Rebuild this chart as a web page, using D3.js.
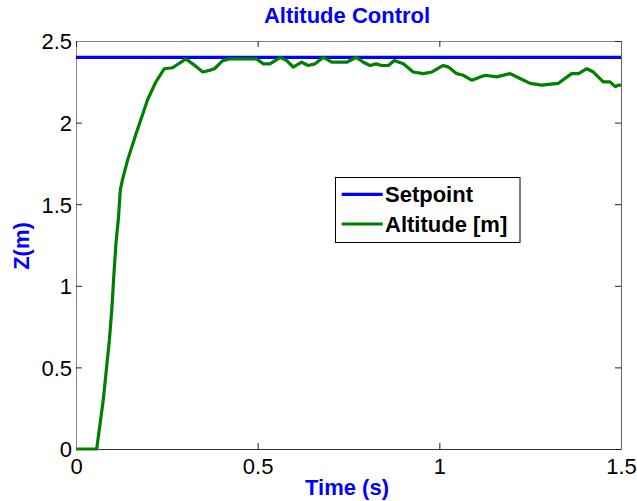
<!DOCTYPE html>
<html>
<head>
<meta charset="utf-8">
<script src="https://cdn.jsdelivr.net/npm/d3@7"></script>
<style>
  html, body { margin: 0; padding: 0; background: #fff; }
  svg { display: block; font-family: "Liberation Sans", Arial, sans-serif; }
</style>
</head>
<body>
<svg id="chart" width="637" height="501"></svg>
<script>
const title = "Altitude Control";
const xLabel = "Time (s)";
const yLabel = "Z(m)";
const seriesNames = ["Setpoint", "Altitude [m]"];
const setpoint = 2.4;
const xTicks = [0, 0.5, 1, 1.5];
const yTicks = [0, 0.5, 1, 1.5, 2, 2.5];
const xTickLabels = ["0", "0.5", "1", "1.5"];
const yTickLabels = ["0", "0.5", "1", "1.5", "2", "2.5"];
const time = [0, 0.057, 0.075, 0.092, 0.099, 0.104, 0.110, 0.117, 0.122, 0.128, 0.142, 0.165, 0.188, 0.197, 0.220, 0.243, 0.266, 0.275, 0.303, 0.321, 0.349, 0.367, 0.381, 0.404, 0.422, 0.450, 0.477, 0.497, 0.516, 0.534, 0.562, 0.580, 0.598, 0.621, 0.639, 0.658, 0.681, 0.704, 0.745, 0.771, 0.791, 0.809, 0.826, 0.841, 0.860, 0.876, 0.901, 0.928, 0.956, 0.979, 1.002, 1.011, 1.025, 1.048, 1.066, 1.089, 1.126, 1.158, 1.195, 1.222, 1.250, 1.282, 1.327, 1.364, 1.383, 1.406, 1.424, 1.451, 1.470, 1.484, 1.493, 1.5];
const altitude = [0, 0, 0.30, 0.67, 0.87, 1.06, 1.26, 1.42, 1.59, 1.65, 1.77, 1.93, 2.08, 2.14, 2.25, 2.33, 2.336, 2.35, 2.39, 2.36, 2.31, 2.32, 2.33, 2.38, 2.39, 2.39, 2.39, 2.39, 2.36, 2.36, 2.40, 2.38, 2.34, 2.37, 2.35, 2.36, 2.40, 2.37, 2.37, 2.40, 2.37, 2.35, 2.36, 2.35, 2.35, 2.38, 2.36, 2.31, 2.30, 2.31, 2.34, 2.35, 2.34, 2.30, 2.29, 2.26, 2.29, 2.28, 2.30, 2.27, 2.24, 2.23, 2.24, 2.30, 2.30, 2.33, 2.31, 2.25, 2.25, 2.22, 2.23, 2.23];

const svg = d3.select("#chart");
const L = 76, R = 621, T = 41, B = 449;
const x = d3.scaleLinear().domain([0, 1.5]).range([L, R]);
const y = d3.scaleLinear().domain([0, 2.5]).range([B, T]);
const FS = 22;

const tickLen = 6;
const gx = svg.append("g").attr("transform", `translate(0,${B})`)
  .call(d3.axisBottom(x).tickValues(xTicks).tickFormat((d, i) => xTickLabels[i]).tickSizeInner(-tickLen).tickSizeOuter(0).tickPadding(9));
const gy = svg.append("g").attr("transform", `translate(${L},0)`)
  .call(d3.axisLeft(y).tickValues(yTicks).tickFormat((d, i) => yTickLabels[i]).tickSizeInner(-tickLen).tickSizeOuter(0).tickPadding(4));
const gxt = svg.append("g").attr("transform", `translate(0,${T})`)
  .call(d3.axisTop(x).tickValues(xTicks).tickFormat("").tickSizeInner(-tickLen).tickSizeOuter(0));
const gyr = svg.append("g").attr("transform", `translate(${R},0)`)
  .call(d3.axisRight(y).tickValues(yTicks).tickFormat("").tickSizeInner(-tickLen).tickSizeOuter(0));

[gx, gy, gxt, gyr].forEach(g => {
  g.selectAll("text").attr("font-size", FS).attr("fill", "#000").attr("font-family", "'Liberation Sans', Arial, sans-serif");
  g.selectAll("line").attr("stroke", "#222").attr("stroke-width", 1);
});
gx.select(".domain").attr("stroke", "#333");
gy.select(".domain").attr("stroke", "#888");
gxt.select(".domain").attr("stroke", "#888");
gyr.select(".domain").attr("stroke", "#666");
gx.selectAll("text").attr("dy", "0.71em");
gy.selectAll("text").attr("dy", "0.36em");

svg.append("line")
  .attr("x1", x(0)).attr("x2", x(1.5))
  .attr("y1", y(setpoint)).attr("y2", y(setpoint))
  .attr("stroke", "#0000ff").attr("stroke-width", 3.3);

const data = time.map((t, i) => [t, altitude[i]]);
svg.append("path")
  .datum(data)
  .attr("fill", "none")
  .attr("stroke", "#008000")
  .attr("stroke-width", 3.2)
  .attr("stroke-linejoin", "round")
  .attr("d", d3.line().x(d => x(d[0])).y(d => y(d[1])));

svg.append("text").attr("x", 347).attr("y", 23).attr("text-anchor", "middle")
  .attr("font-size", FS).attr("font-weight", "bold").attr("fill", "#0000ff").text(title);
svg.append("text").attr("x", 347).attr("y", 495).attr("text-anchor", "middle")
  .attr("font-size", FS).attr("font-weight", "bold").attr("fill", "#0000ff").text(xLabel);
svg.append("text").attr("transform", `translate(29,246) rotate(-90)`).attr("text-anchor", "middle")
  .attr("font-size", FS).attr("font-weight", "bold").attr("fill", "#0000ff").text(yLabel);

const lg = svg.append("g");
lg.append("rect").attr("x", 335.5).attr("y", 177.5).attr("width", 184.5).attr("height", 65)
  .attr("fill", "#fff").attr("stroke", "#000").attr("stroke-width", 1);
const legColors = ["#0000ff", "#008000"];
const legY = [194.3, 224];
seriesNames.forEach((n, i) => {
  lg.append("line").attr("x1", 341.7).attr("x2", 382.7).attr("y1", legY[i]).attr("y2", legY[i])
    .attr("stroke", legColors[i]).attr("stroke-width", 3.2);
  lg.append("text").attr("x", 385).attr("y", legY[i]).attr("dy", "0.36em")
    .attr("font-size", FS).attr("font-weight", "bold").attr("fill", "#000").text(n);
});
</script>
</body>
</html>
